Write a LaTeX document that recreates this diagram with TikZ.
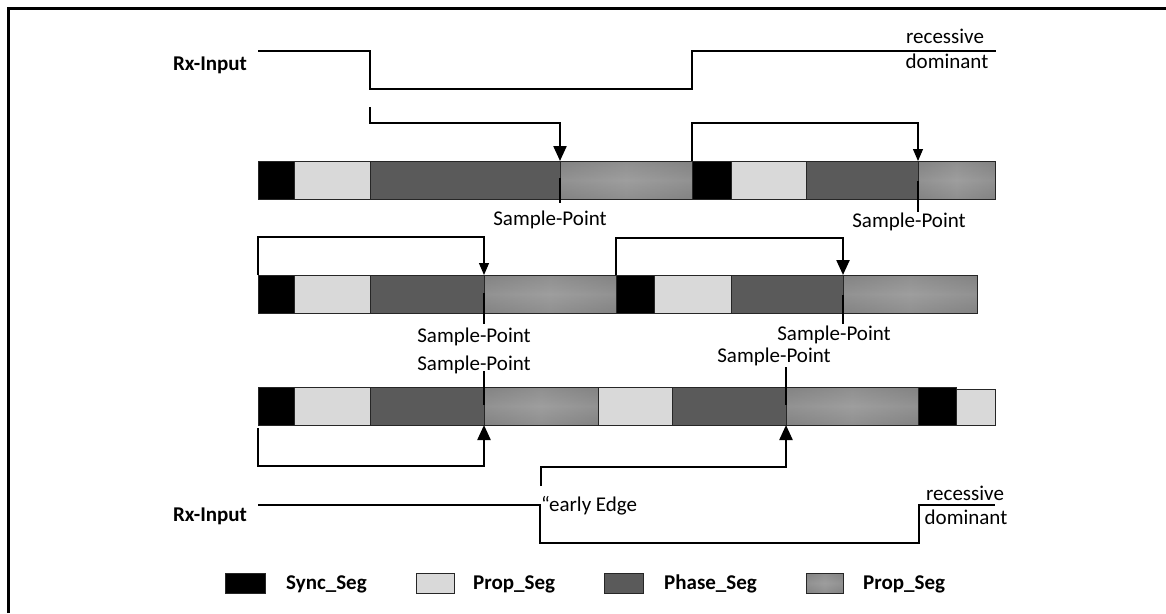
\documentclass[tikz,border=0pt]{standalone}
\usepackage{fontspec}
\setmainfont{Carlito}
\usetikzlibrary{arrows.meta,calc}
\definecolor{propc}{HTML}{D9D9D9}
\definecolor{phasec}{HTML}{5A5A5A}
\definecolor{gedge}{HTML}{838383}
\definecolor{gmid}{HTML}{9E9E9E}
\tikzset{
  seg/.style={draw=black!85, line width=0.8pt, inner sep=0pt, outer sep=0pt, anchor=north west, minimum height=38pt},
  sync/.style={fill=black},
  prop/.style={fill=propc},
  phase/.style={fill=phasec},
  grad/.style={left color=gedge, right color=gedge, middle color=gmid,
    path picture={\shade[top color=gedge, bottom color=gedge, middle color=gmid, opacity=0.55]
      (path picture bounding box.south west) rectangle (path picture bounding box.north east);}},
  sig/.style={line width=2.3pt},
  thickarr/.style={line width=2.3pt, -{Triangle[width=13pt,length=15pt]}},
  thinarr/.style={line width=1.2pt, -{Triangle[width=10pt,length=12pt]}},
  spline/.style={line width=1.2pt},
  txt/.style={inner sep=0pt, font=\fontsize{21pt}{25pt}\selectfont},
  btxt/.style={inner sep=0pt, font=\fontsize{21pt}{25pt}\selectfont\bfseries},
}
\begin{document}
\begin{tikzpicture}[x=1pt, y=-1pt]
\useasboundingbox (0,0) rectangle (1166,613);
\draw[line width=3pt] (8.5,613) -- (8.5,8.5) -- (1166,8.5);

% ---- bars ----
\foreach \a/\b/\t [count=\i] in {258/294/sync, 294/370/prop, 370/560/phase, 560/692/grad, 692/731/sync, 731/806/prop, 806/918/phase, 918/995/grad}
  \node[seg, \t, minimum width={(\b-\a)*1pt}] (r1s\i) at (\a,161) {};
\foreach \a/\b/\t [count=\i] in {258/294/sync, 294/370/prop, 370/484/phase, 484/616/grad, 616/654/sync, 654/731/prop, 731/843/phase, 843/977/grad}
  \node[seg, \t, minimum width={(\b-\a)*1pt}] (r2s\i) at (\a,275) {};
\foreach \a/\b/\t [count=\i] in {258/294/sync, 294/370/prop, 370/484/phase, 484/598/grad, 598/672/prop, 672/786/phase, 786/918/grad, 918/956/sync}
  \node[seg, \t, minimum width={(\b-\a)*1pt}] (r3s\i) at (\a,387) {};
\node[seg, prop, minimum width=39pt, minimum height=36pt] (r3s9) at (956,389) {};

% ---- top Rx-Input ----
\node[btxt] (rx1) at (210,65) {Rx-Input};
\coordinate (t0) at (258,51);
\coordinate (t1) at (370,51);
\coordinate (t2) at (370,89);
\coordinate (t3) at (692,89);
\coordinate (t4) at (692,51);
\coordinate (t5) at (996,51);
\draw[sig] (t0) -- (t1) -- (t2) -- (t3) -- (t4) -- (t5);
\node[txt] (rec1) at (945,36) {recessive};
\node[txt] (dom1) at (947,61) {dominant};

% ---- row 1 arrows ----
\coordinate (a1) at (370,107);
\draw[thickarr] (a1) -- ++(0,16) -| (r1s4.north west);
\draw[thinarr] (r1s5.north west) -- ++(0,-38) -| (r1s8.north west);
\node[txt] (sp1) at (550,220) {Sample-Point};
\node[txt] (sp2) at (909,222) {Sample-Point};
\draw[spline] ($(r1s4.north west)+(0,17)$) -- ($(sp1.north)+(10,-8)$);
\draw[spline] ($(r1s8.north west)+(0,20)$) -- ($(sp2.north)+(9,-1)$);

% ---- row 2 arrows ----
\draw[thinarr] (r2s1.north west) -- ++(0,-38) -| (r2s4.north west);
\draw[thickarr] (r2s5.north west) -- ++(0,-37) -| (r2s8.north west);
\node[txt] (sp3) at (474,337) {Sample-Point};
\node[txt] (sp4) at (834,335) {Sample-Point};
\draw[spline] ($(r2s4.north west)+(0,18)$) -- ($(sp3.north)+(10,-4)$);
\draw[spline] ($(r2s8.north west)+(0,20)$) -- ($(sp4.north)+(9,-2)$);

% ---- row 3 arrows ----
\node[txt] (sp5) at (474,365) {Sample-Point};
\node[txt] (sp6) at (774,357) {Sample-Point};
\draw[spline] ($(sp5.south)+(10,-3)$) -- ($(r3s4.north west)+(0,18)$);
\draw[spline] ($(sp6.south)+(12,1)$) -- ($(r3s7.north west)+(0,18)$);
\coordinate (c1) at (258,428);
\draw[thickarr] (c1) -- ++(0,38) -| (r3s4.south west);
\coordinate (c2) at (541,486);
\draw[thickarr] (c2) -- ++(0,-19) -| (r3s7.south west);

% ---- bottom Rx-Input ----
\node[btxt] (rx2) at (210,516) {Rx-Input};
\coordinate (u0) at (258,505);
\coordinate (u1) at (540,505);
\coordinate (u2) at (540,543);
\coordinate (u3) at (919,543);
\coordinate (u4) at (919,505);
\coordinate (u5) at (995,505);
\draw[sig] (u0) -- (u1) -- (u2) -- (u3) -- (u4) -- (u5);
\node[txt, anchor=west] (early) at (541,506) {“early Edge};
\node[txt] (rec2) at (965,493) {recessive};
\node[txt] (dom2) at (966,517) {dominant};

% ---- legend ----
\node[seg, sync, minimum width=40pt, minimum height=20pt] (l1) at (225,573) {};
\node[btxt, anchor=west] (l1t) at (286,584) {Sync\_Seg};
\node[seg, prop, minimum width=38pt, minimum height=20pt] (l2) at (416,573) {};
\node[btxt, anchor=west] (l2t) at (473,584) {Prop\_Seg};
\node[seg, phase, minimum width=39pt, minimum height=20pt] (l3) at (604,573) {};
\node[btxt, anchor=west] (l3t) at (664,584) {Phase\_Seg};
\node[seg, grad, minimum width=37pt, minimum height=20pt] (l4) at (806,573) {};
\node[btxt, anchor=west] (l4t) at (863,584) {Prop\_Seg};
\end{tikzpicture}
\end{document}
